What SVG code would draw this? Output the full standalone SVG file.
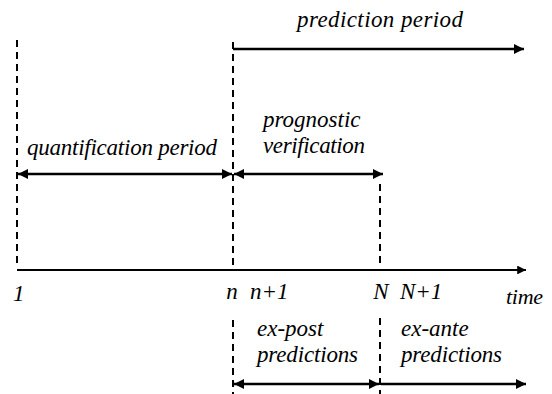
<svg xmlns="http://www.w3.org/2000/svg" width="552" height="394" viewBox="0 0 552 394">
<defs>
<marker id="ah" viewBox="0 0 10 10" refX="10" refY="5" markerWidth="4.5" markerHeight="4" orient="auto-start-reverse" markerUnits="strokeWidth">
<path d="M0,0 L10,5 L0,10 z" fill="#000"/>
</marker>
</defs>
<rect width="552" height="394" fill="#fff"/>
<g id="guides" stroke="#000" stroke-width="2" stroke-dasharray="7,5" fill="none">
<line x1="17" y1="40" x2="17" y2="268"/>
<line x1="233" y1="42" x2="233" y2="268"/>
<line x1="233" y1="320" x2="233" y2="394"/>
<line x1="380" y1="184" x2="380" y2="268"/>
<line x1="380" y1="318" x2="380" y2="394"/>
</g>
<g id="connectors" stroke="#000" stroke-width="2.5" fill="none">
<line x1="233" y1="49" x2="524" y2="49" marker-end="url(#ah)"/>
<line x1="18" y1="174" x2="232" y2="174" marker-start="url(#ah)" marker-end="url(#ah)"/>
<line x1="234" y1="174" x2="383" y2="174" marker-start="url(#ah)" marker-end="url(#ah)"/>
<line x1="17" y1="270" x2="526" y2="270" stroke-width="2.2" marker-end="url(#ah)"/>
<line x1="234" y1="384" x2="379" y2="384" marker-start="url(#ah)" marker-end="url(#ah)"/>
<line x1="381" y1="384" x2="526" y2="384" marker-end="url(#ah)"/>
</g>
<g id="labels" fill="#000">
<text x="297" y="27" textLength="166" font-family="Liberation Serif" font-style="italic" font-size="23">prediction period</text>
<text x="27" y="155" textLength="190" font-family="Liberation Serif" font-style="italic" font-size="23">quantification period</text>
<text x="263" y="127" font-family="Liberation Serif" font-style="italic" font-size="23">prognostic</text>
<text x="263" y="153" textLength="102" font-family="Liberation Serif" font-style="italic" font-size="23">verification</text>
<text x="13" y="301" font-family="Liberation Serif" font-style="italic" font-size="23">1</text>
<text x="232" y="299" text-anchor="middle" font-family="Liberation Serif" font-style="italic" font-size="23">n</text>
<text x="250" y="299" font-family="Liberation Serif" font-style="italic" font-size="23">n+1</text>
<text x="381" y="299" text-anchor="middle" font-family="Liberation Serif" font-style="italic" font-size="23">N</text>
<text x="400" y="299" font-family="Liberation Serif" font-style="italic" font-size="23">N+1</text>
<text x="506" y="304" textLength="37" font-family="Liberation Serif" font-style="italic" font-size="22">time</text>
<text x="257" y="336" font-family="Liberation Serif" font-style="italic" font-size="23">ex-post</text>
<text x="257" y="362" textLength="101" font-family="Liberation Serif" font-style="italic" font-size="23">predictions</text>
<text x="401" y="336" font-family="Liberation Serif" font-style="italic" font-size="23">ex-ante</text>
<text x="401" y="362" textLength="101" font-family="Liberation Serif" font-style="italic" font-size="23">predictions</text>
</g>
</svg>
